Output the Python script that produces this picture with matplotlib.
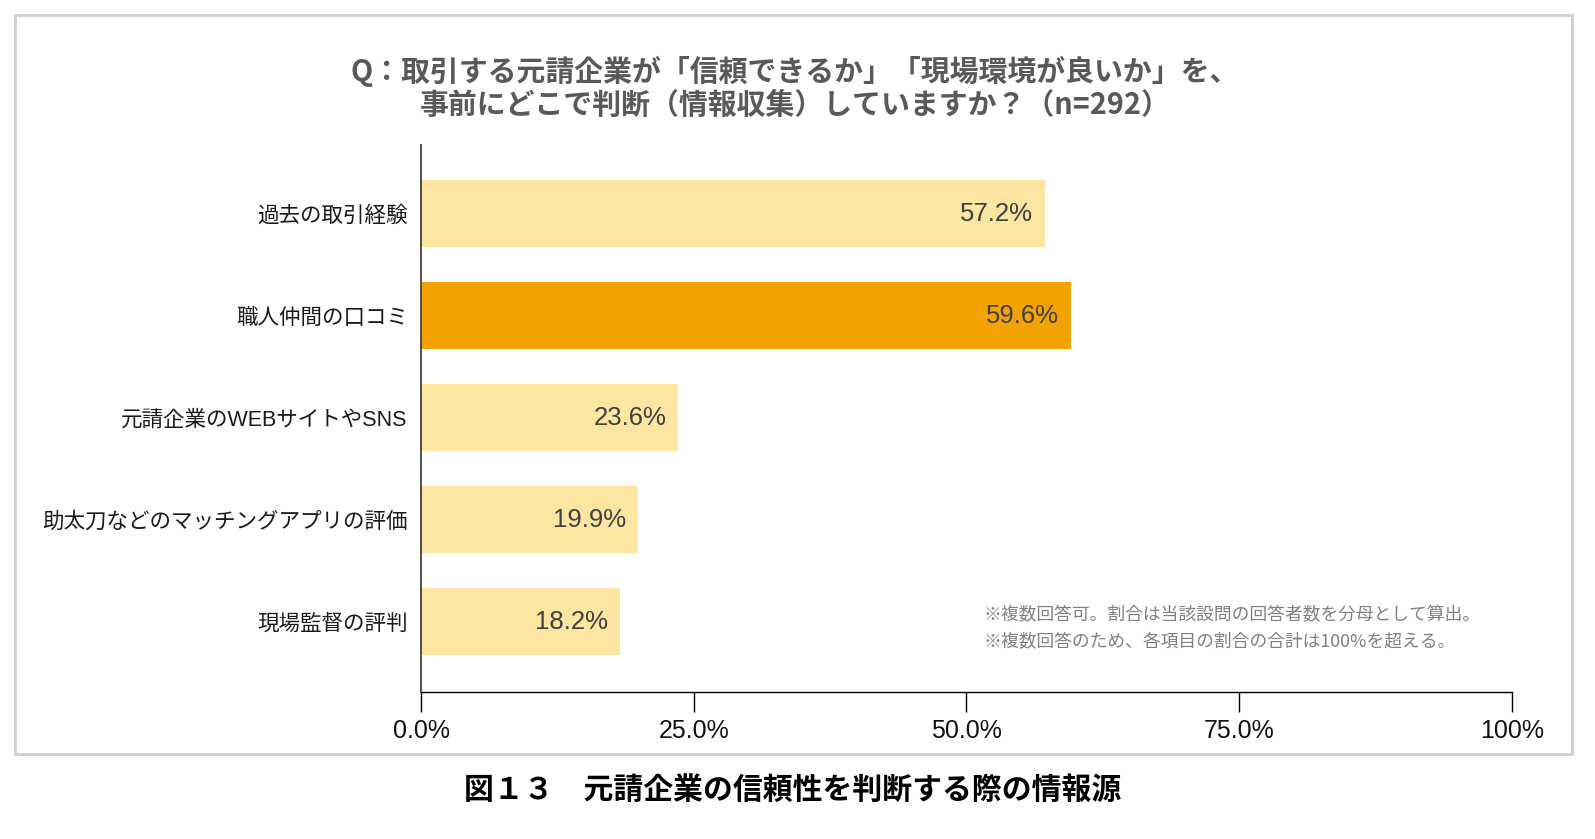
import matplotlib
matplotlib.use("Agg")
import matplotlib.pyplot as plt
from matplotlib.patches import Rectangle

#字型設定
plt.rcParams["font.family"] = ["Noto Sans CJK JP", "DejaVu Sans"]

#資料
categories = ["過去の取引経験", "職人仲間の口コミ", "元請企業のWEBサイトやSNS",
              "助太刀などのマッチングアプリの評価", "現場監督の評判"]
values = [57.2, 59.6, 23.6, 19.9, 18.2]
highlight = [False, True, False, False, False]
xticks = [0, 25, 50, 75, 100]
xtick_labels = ["0.0%", "25.0%", "50.0%", "75.0%", "100%"]

title = "Q：取引する元請企業が「信頼できるか」「現場環境が良いか」を、\n事前にどこで判断（情報収集）していますか？（n=292）"
caption = "図１３　元請企業の信頼性を判断する際の情報源"
notes = ["※複数回答可。割合は当該設問の回答者数を分母として算出。",
         "※複数回答のため、各項目の割合の合計は100%を超える。"]

W, H = 1595, 839
fig = plt.figure(figsize=(W / 100, H / 100), dpi=100)

#外框
fig.patches.append(Rectangle((15 / W, 1 - 754 / H), (1572 - 15) / W, (754 - 15) / H,
                             transform=fig.transFigure, fill=False,
                             edgecolor="#cfcfcf", linewidth=2))

ax = fig.add_axes([421 / W, 1 - 691.7 / H, (1511.7 - 421) / W, (691.7 - 145) / H])

colors = ["#F4A200" if h else "#FEE5A1" for h in highlight]
ypos = range(len(categories))
bars = ax.barh(ypos, values, height=0.65, color=colors)

#數值標籤
for b, v in zip(bars, values):
    ax.text(b.get_width() - 1.1, b.get_y() + b.get_height() / 2, "%.1f%%" % v,
            ha="right", va="center", fontsize=18.5, color="#404040",
            family=["Liberation Sans", "DejaVu Sans"])

ax.set_xlim(0, 100)
ax.set_ylim(4.688, -0.673)
ax.set_yticks(list(ypos))
ax.set_yticklabels(categories, fontsize=15.5, color="#1a1a1a",
                   family=["Liberation Sans", "Noto Sans CJK JP"])
ax.tick_params(axis="y", length=0, pad=9.5)
ax.set_xticks(xticks)
ax.set_xticklabels(xtick_labels, fontsize=18, color="#111111",
                   family=["Liberation Sans", "DejaVu Sans"])
ax.tick_params(axis="x", length=14.4, width=1, pad=5, color="black")

for s in ["top", "right"]:
    ax.spines[s].set_visible(False)
ax.spines["left"].set_color("#404040")
ax.spines["left"].set_linewidth(1.3)
ax.spines["bottom"].set_color("black")
ax.spines["bottom"].set_linewidth(1)

#標題
fig.text(795 / W, 1 - 88 / H, title, ha="center", va="center", fontsize=20.8,
         fontweight="bold", color="#595959", linespacing=1.15)

#註解
fig.text(983.6 / W, 1 - 615.4 / H, notes[0], ha="left", va="center",
         fontsize=12.8, color="#808080")
fig.text(983.6 / W, 1 - 640.9 / H, notes[1], ha="left", va="center",
         fontsize=12.8, color="#808080")

#圖說
fig.text(793 / W, 1 - 790 / H, caption, ha="center", va="center", fontsize=21.5,
         fontweight="bold", color="black")

fig.savefig("out.png", dpi=100, facecolor="white")
